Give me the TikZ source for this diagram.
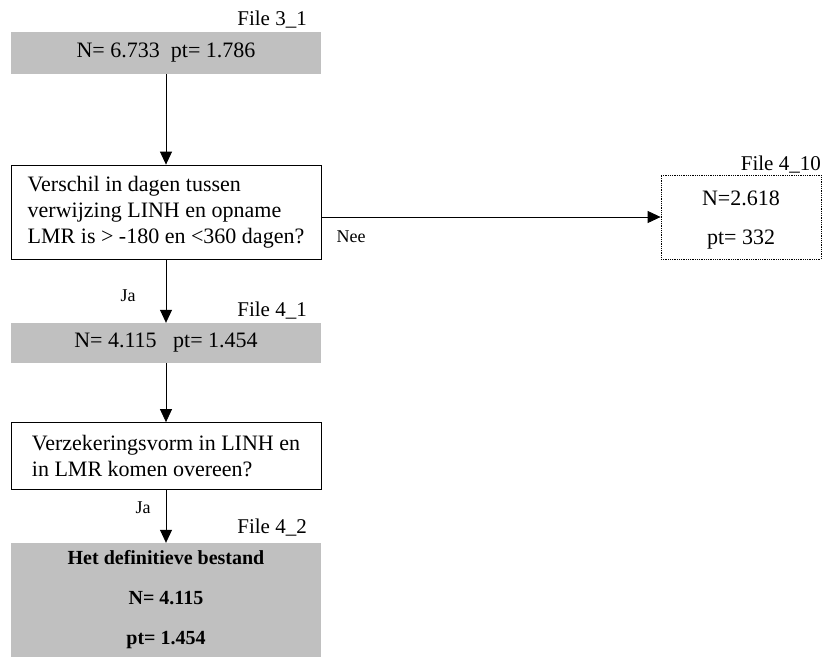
\documentclass[tikz,border=0pt]{standalone}
\usepackage{fontspec}
\setmainfont{Liberation Serif}
\usetikzlibrary{positioning,arrows.meta}
\definecolor{fileGray}{RGB}{192,192,192}
\tikzstyle{fileBox} = [fill=fileGray, minimum width=310, minimum height=42, inner sep=0pt]
\tikzstyle{questionBox} = [draw=black, thick, fill=white, minimum width=310, align=left, inner sep=0pt]
\tikzstyle{fileLabel} = [anchor=base east, inner sep=0pt, font=\fontsize{21}{26}\selectfont]
\tikzstyle{answerText} = [font=\fontsize{18}{20}\selectfont, inner sep=0pt]
\tikzstyle{flowArrow} = [thick, -{Triangle[length=13pt,width=12pt]}]
\newcommand{\bigText}{\fontsize{22}{26}\selectfont}

\begin{document}
\begin{tikzpicture}[x=1pt, y=-1pt, font=\bigText]
    \useasboundingbox (0,0) rectangle (829,659);
    % first selection
    \node [fileBox] (start) at (166,53) {N= 6.733\ \ pt= 1.786};
    \node [fileLabel] (startLabel) at (307,25) {File 3\_1};
    \node [questionBox, minimum height=94] (days) at (166,212)
        {Verschil in dagen tussen\\verwijzing LINH en opname\\LMR is > -180 en <360 dagen?};
    \draw [flowArrow] (start) -- (days);
    % rejected part
    \node [draw=black, thick, densely dotted, minimum width=160, minimum height=84, inner sep=0pt] (rejected) at (741,217) {};
    \node [inner sep=0pt] (rejN) at (741,198) {N=2.618};
    \node [inner sep=0pt] (rejPt) at (741,240) {pt= 332};
    \node [fileLabel] (rejLabel) at (821,170) {File 4\_10};
    \draw [flowArrow] (days.east |- rejected.west) -- (rejected.west);
    \node [answerText] (nee) at (351,237) {Nee};
    % second selection
    \node [fileBox, minimum height=40] (second) at (166,343) {N= 4.115\ \ \ pt= 1.454};
    \node [fileLabel] (secondLabel) at (307,316) {File 4\_1};
    \draw [flowArrow] (days) -- (second);
    \node [answerText] (ja1) at (128,296) {Ja};
    \node [questionBox, minimum height=67] (insurance) at (166,456)
        {Verzekeringsvorm in LINH en\\in LMR komen overeen?};
    \draw [flowArrow] (second) -- (insurance);
    % final file
    \node [fileBox, minimum height=114, align=center, font=\fontsize{20}{26}\selectfont\bfseries] (final) at (166,600)
        {Het definitieve bestand\\[14pt]N= 4.115\\[14pt]pt= 1.454};
    \node [fileLabel] (finalLabel) at (307,533) {File 4\_2};
    \draw [flowArrow] (insurance) -- (final);
    \node [answerText] (ja2) at (143,508) {Ja};
\end{tikzpicture}
\end{document}
